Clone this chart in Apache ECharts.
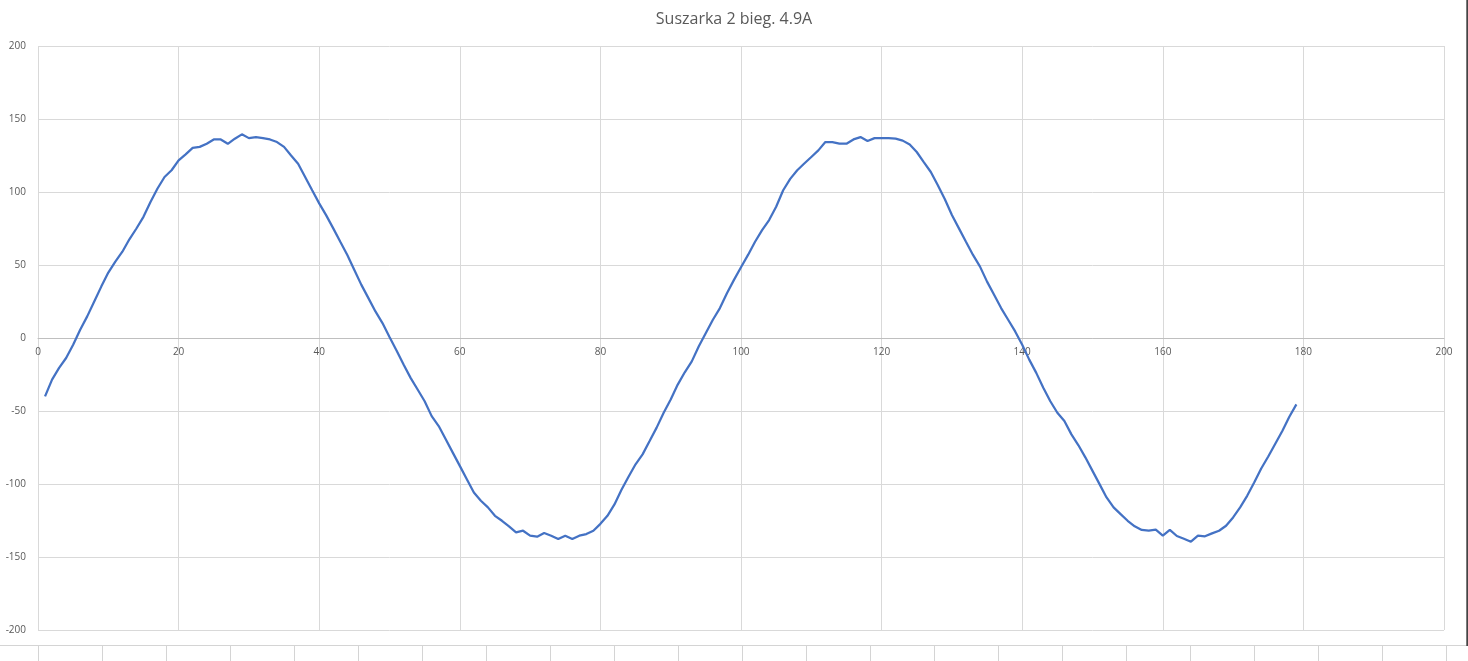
<!DOCTYPE html>
<html><head><meta charset="utf-8">
<script src="https://cdn.jsdelivr.net/npm/echarts@6/dist/echarts.min.js"></script>
<style>html,body{margin:0;padding:0;background:#fff}#c{width:1468px;height:661px}</style>
</head><body><div id="c"></div>
<script>
const titleText = "Suszarka 2 bieg. 4.9A";
const xValues = [];
for (let i = 1; i <= 179; i++) xValues.push(i);
const yValues = [
 -40,-28.5,-20.5,-13.7,-4.6,5.7,14.8,25,35.2,44.8,
 52.3,59.1,67.6,75,83,93.2,102.4,110.3,114.9,121.7,
 125.8,130.2,130.9,133.1,136,136,133,136.5,139.5,136.9,
 137.6,136.9,136,134.2,130.9,125,119.4,110.3,101.2,92.2,
 84,75.1,65.9,56.9,46.6,36.4,27.3,18.2,10.2,0.7,
 -8.5,-18.2,-27.3,-35.3,-43.3,-53.5,-60.3,-69.4,-78.5,-87.6,
 -96.7,-105.8,-111.5,-116,-121.8,-125.2,-129,-133.1,-132,-135.4,
 -136.1,-133.6,-135.4,-137.7,-135.4,-137.7,-135.4,-134.3,-132,-127.3,
 -121.8,-114,-104,-95,-86.5,-79.7,-70.6,-61.4,-51.2,-42.1,
 -31.9,-23.5,-16,-5.7,3.4,12.5,20.5,30.7,39.8,48.5,
 56.9,65.9,73.9,80.8,89.9,101.2,109,114.9,119.5,124,
 128.5,134.2,134.2,133.1,133.1,136,137.6,134.9,136.9,136.9,
 136.9,136.5,135.2,132.5,127.4,120.5,113.7,104.6,95,84.2,
 75.1,65.9,56.9,48.9,38.6,29.6,20.5,12.5,4.5,-4.6,
 -14.8,-23.9,-34.1,-43.3,-51.2,-56.9,-66,-73.5,-81.9,-91,
 -100.1,-109.2,-116,-120.6,-125.2,-129,-131.5,-132,-131.3,-135.4,
 -131.4,-135.6,-137.5,-139.5,-135.4,-135.8,-133.8,-132,-128.6,-122.9,
 -116,-108.1,-99,-89.4,-81.2,-72.4,-63.7,-53.9,-45.5
];
const xTicks = {min: 0, max: 200, interval: 20};
const yTicks = {min: -200, max: 200, interval: 50};

const gridTop = 46, gridBottom = 31, H = 661;
const plotH = H - gridTop - gridBottom;
// distance from bottom of plot to y=0
const zeroOffset = plotH * (0 - yTicks.min) / (yTicks.max - yTicks.min);

const chart = echarts.init(document.getElementById('c'));
const data = xValues.map((x, i) => [x, yValues[i]]);
const cellLines = [];
cellLines.push({type:'line', shape:{x1:0,y1:645.5,x2:1468,y2:645.5}, style:{stroke:'#d4d4d4',lineWidth:1}, silent:true});
for (let k = 0; k < 23; k++) {
  const x = 38.5 + 64*k;
  cellLines.push({type:'line', shape:{x1:x,y1:646,x2:x,y2:661}, style:{stroke:'#d4d4d4',lineWidth:1}, silent:true});
}
cellLines.push({type:'line', shape:{x1:1467.3,y1:0,x2:1467.3,y2:646}, style:{stroke:'#444',lineWidth:2}, silent:true});

chart.setOption({
  animation: false,
  title: {text: titleText, left: 'center', top: 6,
    textStyle: {fontFamily: 'Open Sans', fontSize: 16, fontWeight: 'normal', color: '#595959'}},
  grid: {left: 38, right: 24, top: gridTop, bottom: gridBottom, containLabel: false},
  xAxis: {type: 'value', min: xTicks.min, max: xTicks.max, interval: xTicks.interval,
    offset: -zeroOffset,
    axisLine: {show: true, onZero: false, lineStyle: {color: '#bfbfbf', width: 1}},
    axisTick: {show: false},
    axisLabel: {color: '#595959', fontSize: 10, fontFamily: 'Open Sans', margin: 9},
    splitLine: {show: true, lineStyle: {color: '#d9d9d9', width: 1}}},
  yAxis: {type: 'value', min: yTicks.min, max: yTicks.max, interval: yTicks.interval,
    axisLine: {show: false}, axisTick: {show: false},
    axisLabel: {color: '#595959', fontSize: 10, fontFamily: 'Open Sans', margin: 12},
    splitLine: {show: true, lineStyle: {color: '#d9d9d9', width: 1}}},
  series: [{type: 'line', data: data, showSymbol: false, symbol: 'none',
    lineStyle: {color: '#4472C4', width: 2.25}, itemStyle: {color: '#4472C4'}}],
  graphic: cellLines
});
</script></body></html>
